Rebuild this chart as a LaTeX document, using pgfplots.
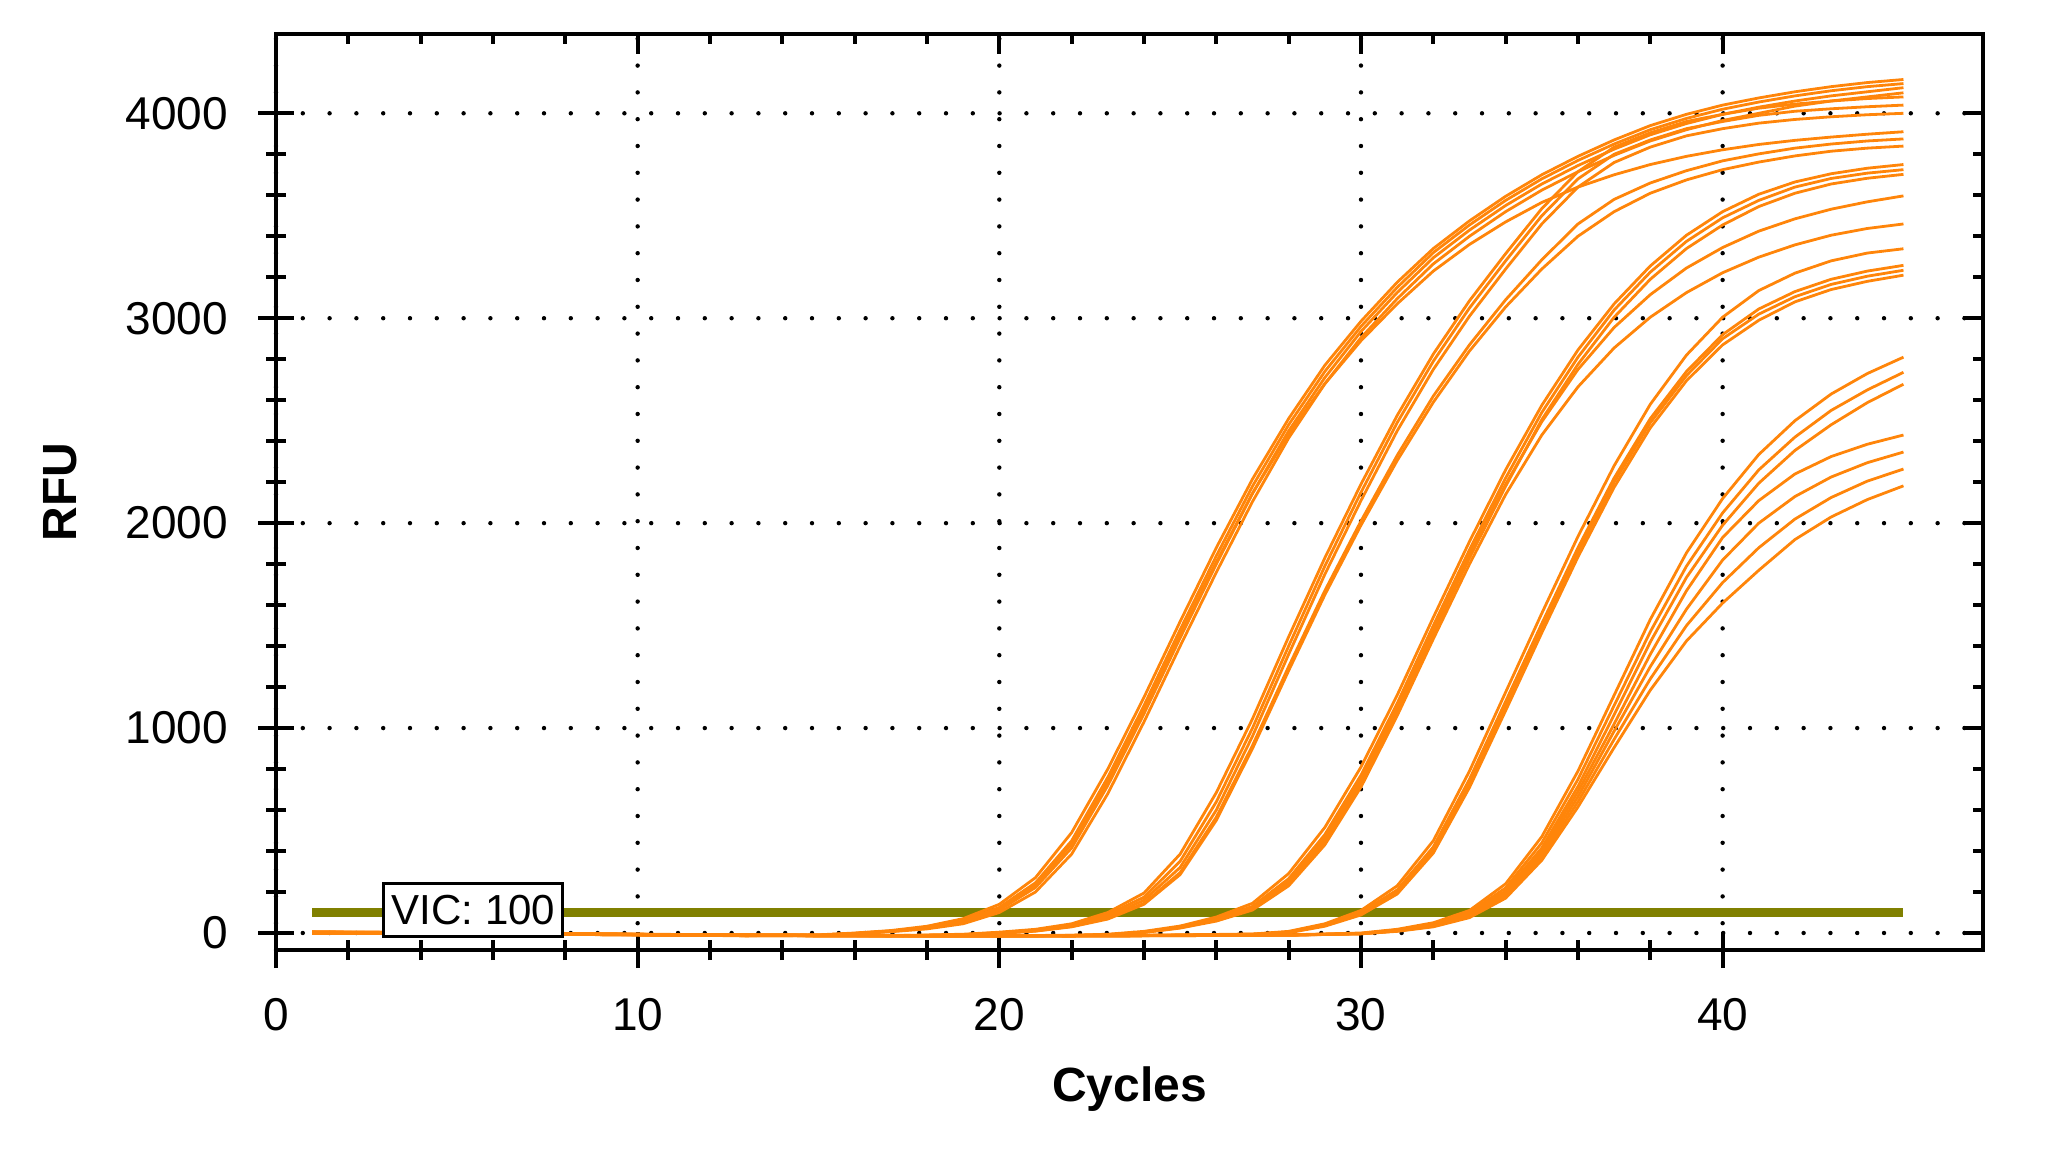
\documentclass[border=0pt]{standalone}
\usepackage{fontspec}
\setmainfont{Liberation Sans}
\usepackage{pgfplots}
\pgfplotsset{compat=1.18}
\definecolor{rfu}{RGB}{255,133,10}
\definecolor{thr}{RGB}{128,128,0}
\pgfplotsset{amp/.style={rfu, line width=0.7pt, line join=round, mark=none}}
\begin{document}
\begin{tikzpicture}
\begin{axis}[
  scale only axis, width=426.75pt, height=229pt,
  xmin=0, xmax=47.2, ymin=-83, ymax=4387,
  xtick={0,10,20,30,40}, minor x tick num=4,
  ytick={0,1000,2000,3000,4000}, minor y tick num=4,
  xtick pos=left, ytick pos=left, tick align=center,
  major tick length=9pt, minor tick length=5pt,
  tick style={black, line width=1pt},
  axis line style={black, line width=1pt},
  grid=major,
  major grid style={black, line width=1.1pt, line cap=round, dash pattern=on 0pt off 6.7pt},
  ticklabel style={font=\fontsize{11.5}{13}\selectfont},
  xticklabel shift=4pt, yticklabel shift=4pt,
  /pgf/number format/assume math mode=true,
  /pgf/number format/1000 sep={},
  scaled y ticks=false,
  xlabel={Cycles}, ylabel={RFU},
  label style={font=\bfseries\fontsize{12}{14}\selectfont},
  xlabel style={at={(axis description cs:0.5,0)}, anchor=center, yshift=-34.75pt},
  ylabel style={at={(axis description cs:0,0.5)}, anchor=center, yshift=54pt},
]
\addplot[thr, line width=2.25pt] coordinates {(1,100) (45,100)};
% group A
\addplot[amp] table[row sep=\\] {1 6\\4 3\\8 -2\\11 -7\\13 -11\\15 -9\\16 0\\17 12\\18 33\\19 70\\20 140\\21 270\\22 490\\23 800\\24 1150\\25 1520\\26 1880\\27 2215\\28 2510\\29 2770\\30 2985\\31 3175\\32 3340\\33 3475\\34 3595\\35 3700\\36 3790\\37 3870\\38 3940\\39 3995\\40 4040\\41 4075\\42 4105\\43 4130\\44 4150\\45 4165\\};
\addplot[amp] table[row sep=\\] {1 5\\4 2\\8 -3\\11 -8\\13 -12\\15 -10\\16 -2\\17 10\\18 28\\19 60\\20 125\\21 245\\22 450\\23 760\\24 1110\\25 1480\\26 1840\\27 2180\\28 2480\\29 2740\\30 2960\\31 3150\\32 3320\\33 3455\\34 3575\\35 3680\\36 3770\\37 3850\\38 3920\\39 3975\\40 4020\\41 4055\\42 4085\\43 4110\\44 4130\\45 4145\\};
\addplot[amp] table[row sep=\\] {1 4\\4 1\\8 -4\\11 -9\\13 -13\\15 -11\\16 -3\\17 8\\18 24\\19 52\\20 112\\21 222\\22 415\\23 720\\24 1070\\25 1440\\26 1800\\27 2145\\28 2450\\29 2710\\30 2935\\31 3125\\32 3295\\33 3430\\34 3550\\35 3655\\36 3745\\37 3825\\38 3895\\39 3950\\40 3995\\41 4030\\42 4060\\43 4085\\44 4105\\45 4125\\};
\addplot[amp] table[row sep=\\] {1 3\\4 0\\8 -5\\11 -10\\13 -14\\15 -12\\16 -4\\17 6\\18 20\\19 45\\20 100\\21 200\\22 385\\23 680\\24 1030\\25 1400\\26 1760\\27 2105\\28 2415\\29 2680\\30 2905\\31 3095\\32 3265\\33 3400\\34 3520\\35 3625\\36 3715\\37 3795\\38 3865\\39 3920\\40 3965\\41 4000\\42 4035\\43 4060\\44 4080\\45 4100\\};
\addplot[amp] table[row sep=\\] {1 5\\4 2\\8 -3\\11 -8\\13 -12\\15 -10\\16 -2\\17 9\\18 26\\19 56\\20 118\\21 235\\22 435\\23 740\\24 1090\\25 1455\\26 1810\\27 2145\\28 2435\\29 2680\\30 2890\\31 3070\\32 3230\\33 3360\\34 3470\\35 3565\\36 3640\\37 3700\\38 3750\\39 3790\\40 3822\\41 3848\\42 3868\\43 3884\\44 3898\\45 3910\\};
% group B
\addplot[amp] table[row sep=\\] {1 4\\5 1\\9 -5\\13 -11\\17 -13\\19 -6\\20 4\\21 18\\22 45\\23 100\\24 195\\25 385\\26 685\\27 1045\\28 1445\\29 1830\\30 2190\\31 2525\\32 2825\\33 3085\\34 3315\\35 3535\\36 3715\\37 3835\\38 3905\\39 3960\\40 3995\\41 4025\\42 4045\\43 4060\\44 4072\\45 4080\\};
\addplot[amp] table[row sep=\\] {1 3\\5 0\\9 -6\\13 -12\\17 -14\\19 -8\\20 2\\21 15\\22 40\\23 90\\24 175\\25 350\\26 640\\27 1000\\28 1400\\29 1790\\30 2150\\31 2490\\32 2790\\33 3050\\34 3280\\35 3500\\36 3680\\37 3800\\38 3870\\39 3925\\40 3960\\41 3990\\42 4010\\43 4022\\44 4032\\45 4040\\};
\addplot[amp] table[row sep=\\] {1 2\\5 -1\\9 -7\\13 -13\\17 -15\\19 -9\\20 0\\21 12\\22 35\\23 80\\24 160\\25 320\\26 600\\27 960\\28 1360\\29 1750\\30 2110\\31 2450\\32 2750\\33 3010\\34 3240\\35 3460\\36 3640\\37 3760\\38 3835\\39 3890\\40 3925\\41 3952\\42 3970\\43 3983\\44 3993\\45 4000\\};
\addplot[amp] table[row sep=\\] {1 2\\5 -1\\9 -7\\13 -13\\17 -15\\19 -9\\20 -1\\21 10\\22 32\\23 72\\24 145\\25 295\\26 565\\27 915\\28 1300\\29 1670\\30 2010\\31 2330\\32 2620\\33 2870\\34 3090\\35 3285\\36 3460\\37 3580\\38 3660\\39 3720\\40 3768\\41 3802\\42 3830\\43 3850\\44 3865\\45 3875\\};
\addplot[amp] table[row sep=\\] {1 3\\5 0\\9 -6\\13 -12\\17 -14\\19 -9\\20 -2\\21 9\\22 30\\23 68\\24 140\\25 285\\26 550\\27 900\\28 1280\\29 1650\\30 1990\\31 2305\\32 2590\\33 2840\\34 3055\\35 3240\\36 3400\\37 3520\\38 3610\\39 3675\\40 3725\\41 3762\\42 3792\\43 3815\\44 3830\\45 3840\\};
% group C
\addplot[amp] table[row sep=\\] {1 3\\5 -1\\10 -7\\15 -11\\20 -13\\22 -11\\23 -6\\24 8\\25 34\\26 78\\27 145\\28 290\\29 515\\30 810\\31 1160\\32 1540\\33 1910\\34 2260\\35 2575\\36 2845\\37 3070\\38 3255\\39 3405\\40 3520\\41 3605\\42 3665\\43 3705\\44 3732\\45 3750\\};
\addplot[amp] table[row sep=\\] {1 2\\5 -2\\10 -8\\15 -12\\20 -14\\22 -12\\23 -8\\24 5\\25 30\\26 70\\27 130\\28 265\\29 480\\30 770\\31 1120\\32 1500\\33 1870\\34 2220\\35 2540\\36 2810\\37 3040\\38 3225\\39 3375\\40 3490\\41 3575\\42 3640\\43 3682\\44 3708\\45 3725\\};
\addplot[amp] table[row sep=\\] {1 1\\5 -3\\10 -9\\15 -13\\20 -15\\22 -13\\23 -9\\24 3\\25 26\\26 62\\27 118\\28 240\\29 445\\30 730\\31 1080\\32 1460\\33 1830\\34 2180\\35 2505\\36 2775\\37 3005\\38 3190\\39 3340\\40 3455\\41 3545\\42 3610\\43 3655\\44 3683\\45 3702\\};
\addplot[amp] table[row sep=\\] {1 2\\5 -2\\10 -8\\15 -12\\20 -14\\22 -12\\23 -8\\24 4\\25 28\\26 66\\27 124\\28 252\\29 462\\30 750\\31 1100\\32 1480\\33 1850\\34 2190\\35 2495\\36 2750\\37 2955\\38 3115\\39 3245\\40 3345\\41 3425\\42 3485\\43 3532\\44 3568\\45 3597\\};
\addplot[amp] table[row sep=\\] {1 1\\5 -3\\10 -9\\15 -13\\20 -15\\22 -13\\23 -9\\24 2\\25 24\\26 58\\27 112\\28 230\\29 430\\30 712\\31 1060\\32 1435\\33 1800\\34 2140\\35 2430\\36 2665\\37 2855\\38 3005\\39 3125\\40 3222\\41 3298\\42 3358\\43 3405\\44 3438\\45 3460\\};
% group D
\addplot[amp] table[row sep=\\] {1 1\\6 -3\\12 -9\\18 -13\\24 -11\\27 -5\\28 8\\29 45\\30 110\\31 230\\32 450\\33 790\\34 1175\\35 1560\\36 1935\\37 2280\\38 2580\\39 2820\\40 3005\\41 3135\\42 3220\\43 3280\\44 3318\\45 3339\\};
\addplot[amp] table[row sep=\\] {1 0\\6 -4\\12 -10\\18 -14\\24 -12\\27 -6\\28 5\\29 40\\30 100\\31 210\\32 420\\33 750\\34 1130\\35 1510\\36 1880\\37 2220\\38 2510\\39 2740\\40 2920\\41 3045\\42 3130\\43 3190\\44 3230\\45 3258\\};
\addplot[amp] table[row sep=\\] {1 0\\6 -4\\12 -10\\18 -14\\24 -12\\27 -6\\28 3\\29 37\\30 95\\31 200\\32 405\\33 730\\34 1110\\35 1490\\36 1860\\37 2200\\38 2490\\39 2720\\40 2900\\41 3020\\42 3105\\43 3165\\44 3205\\45 3234\\};
\addplot[amp] table[row sep=\\] {1 -1\\6 -5\\12 -11\\18 -15\\24 -13\\27 -7\\28 1\\29 33\\30 88\\31 190\\32 390\\33 710\\34 1085\\35 1465\\36 1835\\37 2175\\38 2465\\39 2695\\40 2870\\41 2990\\42 3080\\43 3140\\44 3180\\45 3210\\};
% group E
\addplot[amp] table[row sep=\\] {1 1\\8 -5\\15 -11\\22 -13\\28 -9\\30 0\\31 18\\32 50\\33 110\\34 240\\35 470\\36 790\\37 1160\\38 1530\\39 1855\\40 2120\\41 2335\\42 2500\\43 2630\\44 2730\\45 2810\\};
\addplot[amp] table[row sep=\\] {1 0\\8 -6\\15 -12\\22 -14\\28 -10\\30 -2\\31 15\\32 45\\33 100\\34 220\\35 440\\36 750\\37 1110\\38 1470\\39 1790\\40 2050\\41 2260\\42 2420\\43 2550\\44 2650\\45 2736\\};
\addplot[amp] table[row sep=\\] {1 0\\8 -6\\15 -12\\22 -14\\28 -10\\30 -3\\31 12\\32 40\\33 92\\34 205\\35 415\\36 715\\37 1065\\38 1420\\39 1735\\40 1990\\41 2195\\42 2355\\43 2480\\44 2588\\45 2678\\};
\addplot[amp] table[row sep=\\] {1 -1\\8 -7\\15 -13\\22 -15\\28 -11\\30 -3\\31 12\\32 38\\33 90\\34 200\\35 400\\36 690\\37 1020\\38 1360\\39 1670\\40 1930\\41 2110\\42 2240\\43 2325\\44 2385\\45 2430\\};
\addplot[amp] table[row sep=\\] {1 0\\8 -6\\15 -12\\22 -14\\28 -10\\30 -3\\31 10\\32 35\\33 85\\34 190\\35 385\\36 665\\37 985\\38 1300\\39 1580\\40 1820\\41 2000\\42 2130\\43 2225\\44 2295\\45 2347\\};
\addplot[amp] table[row sep=\\] {1 -1\\8 -7\\15 -13\\22 -15\\28 -11\\30 -4\\31 10\\32 33\\33 80\\34 180\\35 370\\36 640\\37 945\\38 1240\\39 1500\\40 1710\\41 1880\\42 2020\\43 2125\\44 2205\\45 2264\\};
\addplot[amp] table[row sep=\\] {1 0\\8 -6\\15 -12\\22 -14\\28 -10\\30 -4\\31 8\\32 30\\33 75\\34 170\\35 355\\36 615\\37 905\\38 1185\\39 1425\\40 1610\\41 1770\\42 1920\\43 2030\\44 2115\\45 2182\\};
\node[draw=black, line width=0.75pt, fill=white, minimum width=44.75pt, minimum height=13.25pt, inner sep=0pt, font=\fontsize{10.5}{12}\selectfont] at (axis cs:5.46,110) {VIC: 100};
\end{axis}
\begin{axis}[
  scale only axis, width=426.75pt, height=229pt,
  xmin=0, xmax=47.2, ymin=-83, ymax=4387,
  xtick={0,10,20,30,40}, minor x tick num=4,
  ytick={0,1000,2000,3000,4000}, minor y tick num=4,
  xtick pos=right, ytick pos=right, tick align=inside,
  major tick length=5pt, minor tick length=2.5pt,
  tick style={black, line width=1pt},
  axis line style={black, line width=1pt},
  xticklabels={}, yticklabels={},
]
\end{axis}
\pgfresetboundingbox
\path (-69pt,-51.25pt) rectangle (443.75pt,237.5pt);
\end{tikzpicture}
\end{document}
